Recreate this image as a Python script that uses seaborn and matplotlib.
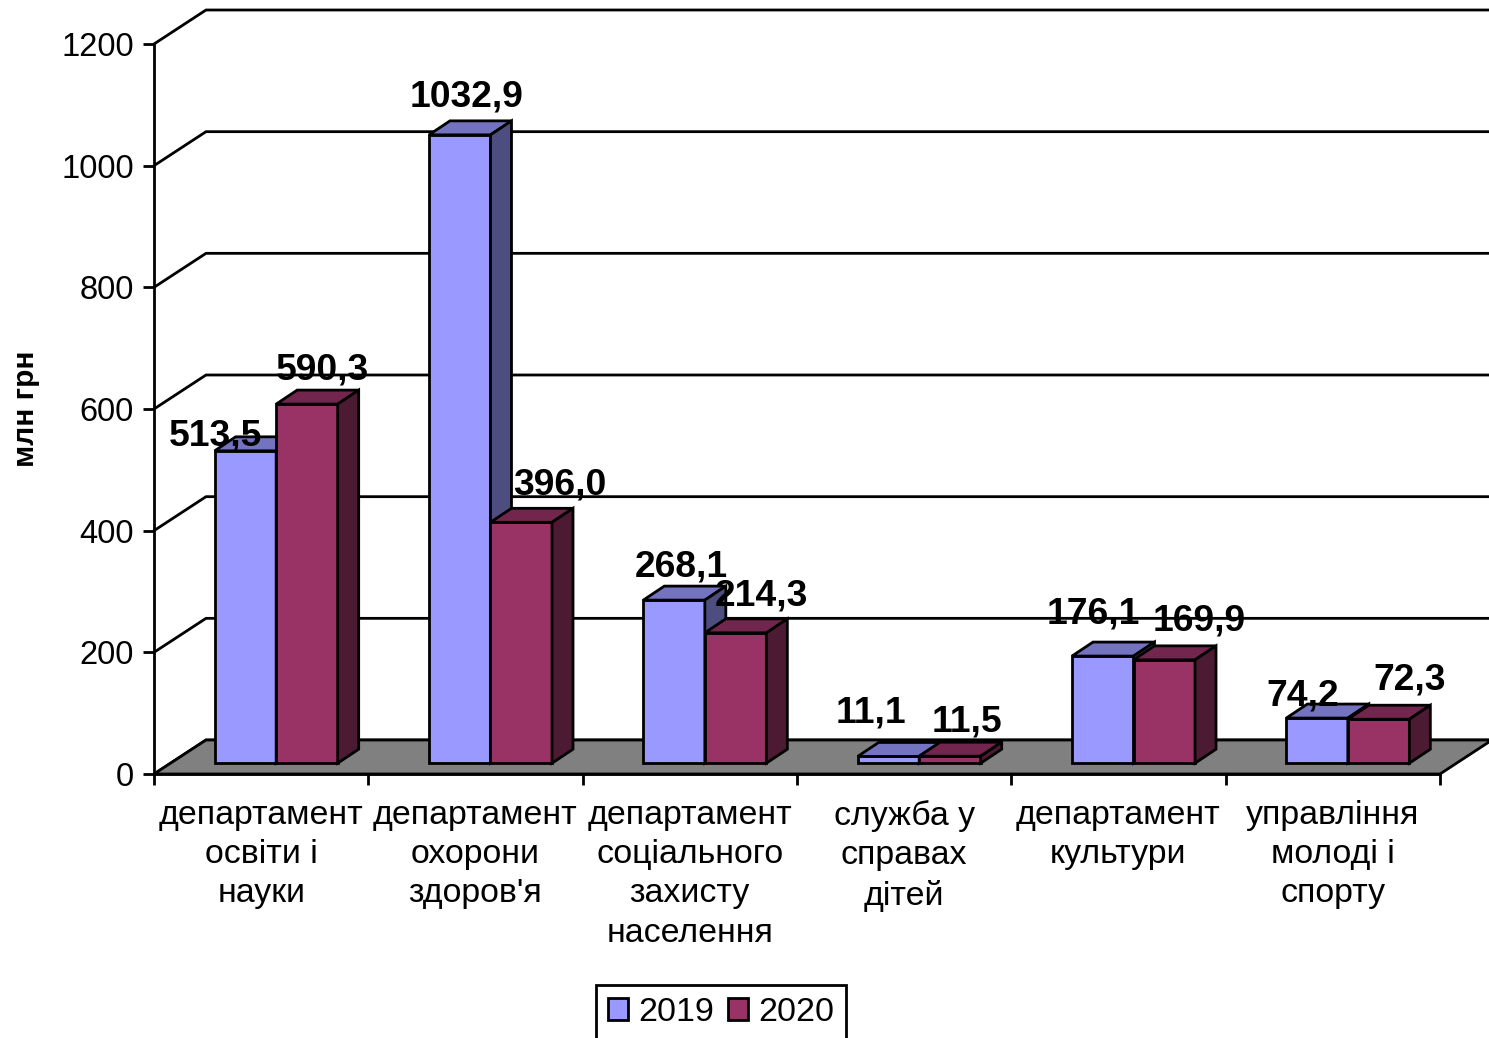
import pandas as pd
import matplotlib
matplotlib.use("Agg")
import matplotlib.pyplot as plt
import matplotlib.transforms as mtransforms
from matplotlib.lines import Line2D
from matplotlib.patches import Polygon
import seaborn as sns

categories = ["департамент\nосвіти і\nнауки", "департамент\nохорони\nздоров'я",
              "департамент\nсоціального\nзахисту\nнаселення", "служба у\nсправах\nдітей",
              "департамент\nкультури", "управління\nмолоді і\nспорту"]
values_2019 = [513.5, 1032.9, 268.1, 11.1, 176.1, 74.2]
values_2020 = [590.3, 396.0, 214.3, 11.5, 169.9, 72.3]
years = ["2019", "2020"]
y_ticks = [0, 200, 400, 600, 800, 1000, 1200]

# where the value labels sit relative to the top of their bar, pixels
label_shift_2019 = [(-30, 15), (7, 38), (7, 33), (-17, 43), (-9, 42), (-14, 22)]
label_shift_2020 = [(16, 34), (39, 37), (26, 37), (17, 34), (35, 39), (31, 39)]

W, H = 1489, 1038
FRONT = (154, 1440, 774, 44)  # left, right, y of 0, y of 1200
WALL_DX, WALL_DY = 52, 34     # depth of the floor
BAR_DX, BAR_DY = 21, 14       # depth of a bar
SHIFT_X, SHIFT_Y = 15, 10.8   # bars stand a little inside the floor
LW = 2.0

colors = {"2019": "#9999FF", "2020": "#993366"}
top_colors = {"2019": "#7373BF", "2020": "#73264D"}
side_colors = {"2019": "#4D4D80", "2020": "#4D1A33"}

sns.set_style("white", {"text.color": "black", "axes.labelcolor": "black",
                        "xtick.color": "black", "ytick.color": "black"})
plt.rcParams["font.family"] = ["Liberation Sans", "DejaVu Sans"]

df = pd.DataFrame({
    "dep": categories * 2,
    "value": values_2019 + values_2020,
    "year": [years[0]] * 6 + [years[1]] * 6,
})

fig = plt.figure(figsize=(W / 100, H / 100), dpi=100)
ax = fig.add_axes([FRONT[0] / W, (H - FRONT[2]) / H,
                   (FRONT[1] - FRONT[0]) / W, (FRONT[2] - FRONT[3]) / H])
ax.patch.set_alpha(0)

sns.barplot(data=df, x="dep", y="value", hue="year", palette=colors, width=0.574, gap=0,
            edgecolor="black", linewidth=LW, saturation=1, ax=ax, zorder=5)
ax.set_xlim(-0.5, 5.5)
ax.set_ylim(0, 1200)
sns.despine(ax=ax)
for s in ["left", "bottom"]:
    ax.spines[s].set_linewidth(LW)
    ax.spines[s].set_color("black")
ax.set_xlabel("")
ax.set_ylabel("млн грн", fontsize=21.5, fontweight="bold", labelpad=15)

ax.set_yticks(y_ticks)
ax.tick_params(axis="y", length=8, width=LW, labelsize=23.5, pad=6.5, left=True, color="black")
ax.set_xticks(range(6), labels=categories)
ax.tick_params(axis="x", which="major", length=0, labelsize=24.4, pad=19, labelcolor="black")
ax.set_xticks([i - 0.5 for i in range(7)], minor=True)
ax.tick_params(axis="x", which="minor", length=8, width=LW, bottom=True, color="black")
for t in ax.get_xticklabels():
    t.set_linespacing(1.335)


def px(x, y):
    return ax.transData.transform((x, y))


def poly(pts, color, z):
    ax.add_patch(Polygon(pts, closed=True, facecolor=color, edgecolor="black", linewidth=LW,
                         joinstyle="miter", transform=mtransforms.IdentityTransform(),
                         clip_on=False, zorder=z))


# back wall lines
for v in y_ticks:
    x0, y0 = px(-0.5, v)
    x2, _ = px(5.5, v)
    ax.add_line(Line2D([x0, x0 + WALL_DX, x2 + WALL_DX], [y0, y0 + WALL_DY, y0 + WALL_DY],
                       color="black", lw=LW, transform=mtransforms.IdentityTransform(),
                       clip_on=False, zorder=1))

# floor
xl, yb = px(-0.5, 0)
xr, _ = px(5.5, 0)
poly([(xl, yb), (xl + WALL_DX, yb + WALL_DY), (xr + WALL_DX, yb + WALL_DY), (xr, yb)], "#808080", 2)

# bars: move them onto the floor, add top and side faces, then the value labels
shifted = ax.transData + mtransforms.Affine2D().translate(SHIFT_X, SHIFT_Y)
bars = list(ax.patches)[:12]
all_values = values_2019 + values_2020
all_shifts = label_shift_2019 + label_shift_2020
for n, bar in enumerate(bars):
    year = years[n // 6]
    z = 5 + n // 6
    bar.set_transform(shifted)
    bar.set_clip_on(False)
    bar.set_zorder(z)
    x = bar.get_x()
    w = bar.get_width()
    v = all_values[n]
    (x1, y1), (x2, y2) = shifted.transform([(x, 0), (x + w, v)])
    poly([(x1, y2), (x1 + BAR_DX, y2 + BAR_DY), (x2 + BAR_DX, y2 + BAR_DY), (x2, y2)], top_colors[year], z)
    poly([(x2, y1), (x2 + BAR_DX, y1 + BAR_DY), (x2 + BAR_DX, y2 + BAR_DY), (x2, y2)], side_colors[year], z)
    ax.annotate(f"{v:.1f}".replace(".", ","), xy=(x + w / 2, v), xycoords=shifted,
                xytext=all_shifts[n], textcoords="offset pixels", ha="center", va="center",
                fontsize=26.8, fontweight="bold", color="black", zorder=10, annotation_clip=False)

sns.move_legend(ax, "center", bbox_to_anchor=(721 / W, (H - 1012.5) / H), bbox_transform=fig.transFigure,
                ncol=2, title=None, frameon=True, fancybox=False, edgecolor="black", framealpha=1,
                fontsize=24.5, handlelength=0.58, handleheight=0.58, handletextpad=0.3,
                columnspacing=0.42, borderpad=0.36, labelcolor="black")
ax.get_legend().get_frame().set_linewidth(LW)
ax.get_legend().set_zorder(20)

fig.savefig("out.png", dpi=100)
